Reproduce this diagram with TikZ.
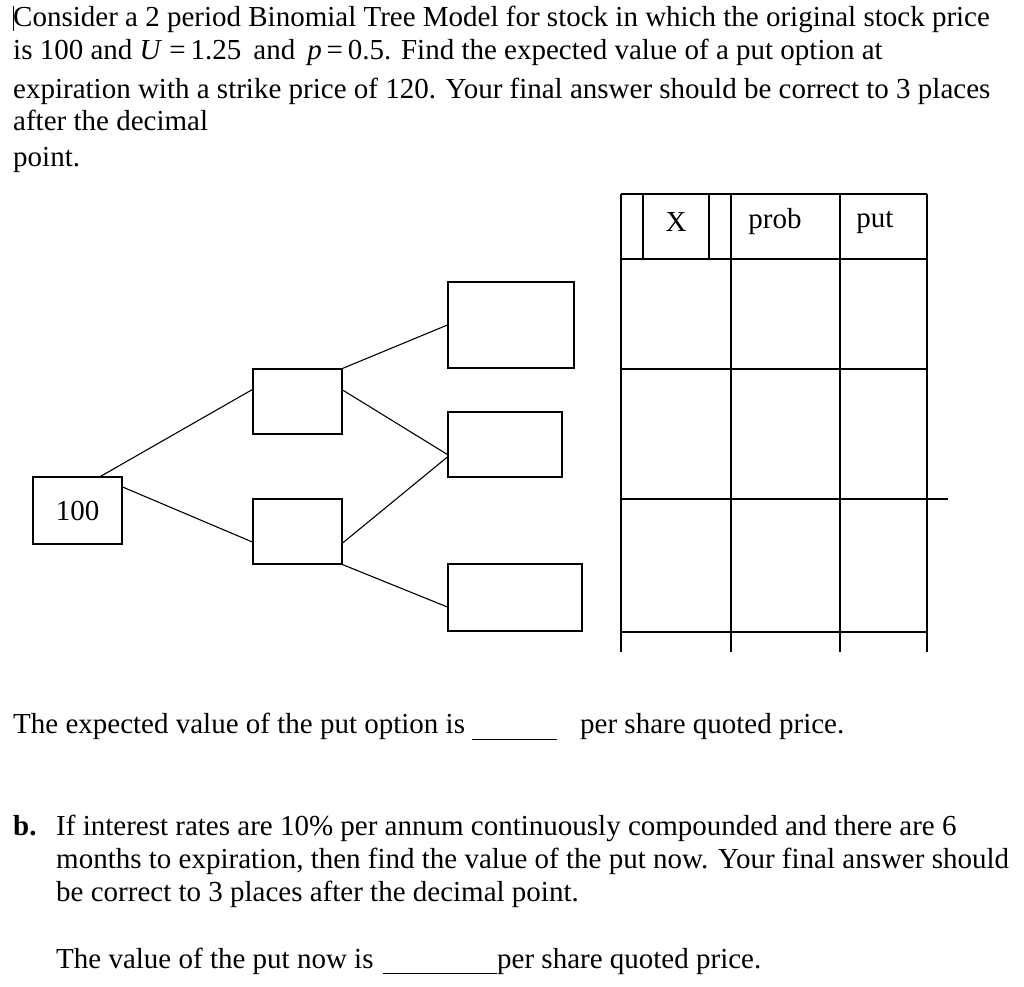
\documentclass[tikz,border=0pt]{standalone}
\usepackage{fontspec}
\setmainfont{Liberation Serif}
\newcommand{\fsz}{\fontsize{29}{32}\selectfont}
\begin{document}
\begin{tikzpicture}[x=1pt,y=-1pt,
  t/.style={anchor=base west,inner sep=0pt,font=\fsz},
  bx/.style={draw,line width=1.2pt,inner sep=0pt},
  ln/.style={line width=1.1pt},
  tl/.style={line width=1.3pt}]
\useasboundingbox (0,0) rectangle (1024,986);
% text
\node[t] (l1) at (13,26) {Consider a 2 period Binomial Tree Model for stock in which the original stock price};
\node[t] (l2) at (13,59) {is 100 and \textit{U} =\,1.25\, and\, \textit{p}\,=\,0.5. Find the expected value of a put option at};
\node[t] (l3) at (13,98) {expiration with a strike price of 120. Your final answer should be correct to 3 places};
\node[t] (l4) at (13,130) {after the decimal};
\node[t] (l5) at (13,166) {point.};
\draw[line width=1pt] (13,6) -- (13,31);
% tree
\node[bx,minimum width=89pt,minimum height=67pt,font=\fsz] (n0) at (77.5,510.5) {100};
\node[bx,minimum width=89pt,minimum height=65pt] (u) at (297.5,401.5) {};
\node[bx,minimum width=89pt,minimum height=65pt] (d) at (297.5,531.5) {};
\node[bx,minimum width=126pt,minimum height=86pt] (uu) at (511,325) {};
\node[bx,minimum width=114pt,minimum height=65pt] (ud) at (505,444.5) {};
\node[bx,minimum width=134pt,minimum height=67pt] (dd) at (515,597.5) {};
\draw[ln] ([xshift=23pt]n0.north) -- ([yshift=12pt]u.west);
\draw[ln] ([yshift=23.5pt]n0.east) -- ([yshift=-10.5pt]d.west);
\draw[ln] (u.north east) -- (uu.west);
\draw[ln] ([yshift=11.5pt]u.east) -- ([yshift=-10pt]ud.west);
\draw[ln] ([yshift=-11.5pt]d.east) -- ([yshift=-12.5pt]ud.west);
\draw[ln] (d.south east) -- ([yshift=-9.5pt]dd.west);
% table
\draw[tl] (621,194) -- (927,194);
\draw[tl] (621,259) -- (927,259);
\draw[tl] (621,369) -- (927,369);
\draw[tl] (621,499) -- (948,499);
\draw[tl] (621,632) -- (927,632);
\foreach \x in {621,731,840,927} \draw[tl] (\x,194) -- (\x,652);
\draw[tl] (643,194) -- (643,259);
\draw[tl] (709,194) -- (709,259);
\node[font=\fsz] (hx) at (676,222) {X};
\node[font=\fsz] (hp) at (775,222) {prob};
\node[font=\fsz] (hu) at (875,222) {put};
% bottom
\node[t] (e1) at (13,733) {The expected value of the put option is};
\draw[line width=0.8pt] (472,739) -- (557,739);
\node[t] (e2) at (580,733) {per share quoted price.};
\node[t,font=\fsz\bfseries] (b) at (13,835) {b.};
\node[t] (b1) at (56,835) {If interest rates are 10\% per annum continuously compounded and there are 6};
\node[t] (b2) at (56,868) {months to expiration, then find the value of the put now. Your final answer should};
\node[t] (b3) at (56,901) {be correct to 3 places after the decimal point.};
\node[t] (v1) at (56,968) {The value of the put now is};
\draw[line width=0.8pt] (383,973) -- (497,973);
\node[t] (v2) at (497,968) {per share quoted price.};
\end{tikzpicture}
\end{document}
